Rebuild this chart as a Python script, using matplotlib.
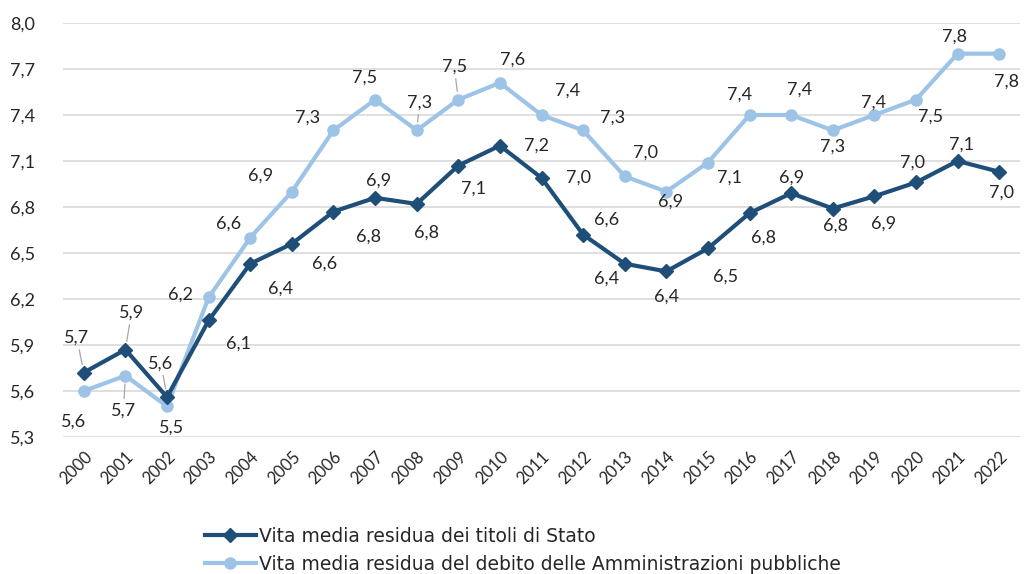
import matplotlib
matplotlib.use("Agg")
import matplotlib.pyplot as plt
from matplotlib.lines import Line2D

# ---------------------------------------------------------------------------
# Data
# ---------------------------------------------------------------------------
years = [str(y) for y in range(2000, 2023)]

titoli_stato = [5.72, 5.87, 5.56, 6.06, 6.43, 6.56, 6.77, 6.86, 6.82, 7.07, 7.20, 6.99,
                6.62, 6.43, 6.38, 6.53, 6.76, 6.89, 6.79, 6.87, 6.96, 7.10, 7.03]
debito_pa = [5.60, 5.70, 5.50, 6.21, 6.60, 6.90, 7.30, 7.50, 7.30, 7.50, 7.61, 7.40,
             7.30, 7.00, 6.90, 7.09, 7.40, 7.40, 7.30, 7.40, 7.50, 7.80, 7.80]

label_titoli = "Vita media residua dei titoli di Stato"
label_debito = "Vita media residua del debito delle Amministrazioni pubbliche"

y_ticks = [5.3, 5.6, 5.9, 6.2, 6.5, 6.8, 7.1, 7.4, 7.7, 8.0]

# label placement (pixel offsets from the point, and whether a leader line is drawn)
off_titoli = [(-7, 35), (6, 37), (-6, 34), (30, -23), (30, -25), (33, -20), (35, -25),
              (3, 17), (10, -29), (15, -23), (37, 0), (37, 0), (23, 15), (-18, -15),
              (0, -25), (18, -28), (14, -24), (0, 16), (3, -17), (9, -27), (-3, 20),
              (4, 16), (2, -21)]
lead_titoli = {0, 1, 2}
off_debito = [(-10, -31), (-2, -35), (5, -21), (-28, 3), (-22, 14), (-31, 16), (-26, 13),
              (-11, 22), (3, 28), (-4, 33), (13, 23), (26, 24), (29, 13), (21, 24),
              (4, -10), (22, -15), (-10, 20), (8, 25), (0, -16), (-1, 12), (15, -17),
              (-3, 17), (7, -28)]
lead_debito = {1, 8, 9}

DARK = "#1f4e79"
LIGHT = "#9dc3e6"
TXT = "#262626"
FONT = "Lato"

plt.rcParams["font.family"] = [FONT, "DejaVu Sans"]

fig = plt.figure(figsize=(10.25, 5.74), dpi=100)
ax = fig.add_axes([63 / 1025, 1 - 437 / 574, (1020 - 63) / 1025, (437 - 23) / 574])

x = list(range(len(years)))
ax.plot(x, titoli_stato, color=DARK, lw=3, marker="D", ms=7, zorder=3)
ax.plot(x, debito_pa, color=LIGHT, lw=3, marker="o", ms=8, zorder=2)


def put_labels(values, offsets, leaders):
    for i, v in enumerate(values):
        dx, dy = offsets[i]
        txt = f"{v:.1f}".replace(".", ",")
        arrow = None
        if i in leaders:
            arrow = dict(arrowstyle="-", color="#a6a6a6", lw=0.9, shrinkA=1, shrinkB=6)
        ax.annotate(txt, (i, v), xytext=(dx, dy), textcoords="offset pixels",
                    ha="center", va="center", fontsize=13, color=TXT,
                    arrowprops=arrow, zorder=5)


put_labels(titoli_stato, off_titoli, lead_titoli)
put_labels(debito_pa, off_debito, lead_debito)

ax.set_xlim(-0.5, len(years) - 0.5)
ax.set_ylim(5.3, 8.0)
ax.set_yticks(y_ticks)
ax.set_yticklabels([f"{t:.1f}".replace(".", ",") for t in y_ticks], fontsize=13, color=TXT)
ax.set_xticks(x)
ax.set_xticklabels(years, rotation=45, ha="right", rotation_mode="anchor",
                   fontsize=12, color=TXT)
ax.tick_params(length=0, pad=8)
ax.tick_params(axis="y", pad=20)
ax.grid(axis="y", color="#d9d9d9", lw=1.2)
ax.set_axisbelow(True)
for s in ax.spines.values():
    s.set_visible(False)

handles = [
    Line2D([], [], color=DARK, lw=3, marker="D", ms=7),
    Line2D([], [], color=LIGHT, lw=3, marker="o", ms=8),
]
fig.legend(handles, [label_titoli, label_debito], loc="upper left",
           bbox_to_anchor=(188 / 1025, 1 - 510 / 574), frameon=False,
           prop={"family": "DejaVu Sans", "size": 13.5},
           handlelength=2.7, handletextpad=0.2, labelspacing=0.48,
           labelcolor=TXT)

fig.savefig("out.png", dpi=100, facecolor="white")
